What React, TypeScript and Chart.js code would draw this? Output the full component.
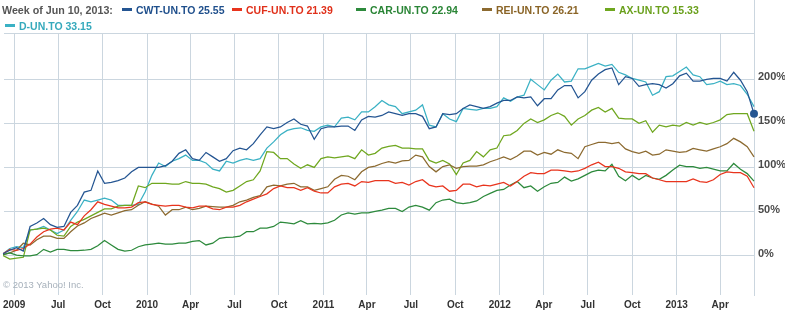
import React, { useEffect, useRef } from "react";
import { Chart, registerables } from "chart.js";

Chart.register(...registerables);

// ---------- data ----------
const HEADER_DATE = "Week of Jun 10, 2013:";
const SERIES_NAMES = ["CWT-UN.TO", "CUF-UN.TO", "CAR-UN.TO", "REI-UN.TO", "AX-UN.TO", "D-UN.TO"];
const LAST_PRICES = ["25.55", "21.39", "22.94", "26.21", "15.33", "33.15"];
const COPYRIGHT = "\u00a9 2013 Yahoo! Inc.";

// biweekly closes, % change since first week
const FIRST_WEEK = "2009-03-09";
const STEP_DAYS = 14;

const CWT = [
  2, 6, 9, 5, 33, 37, 42, 35, 32, 33, 49, 57, 72, 74, 96, 82, 83,
  85, 88, 95, 100, 100, 100, 100, 102, 107, 116, 120, 110, 108, 117, 112, 107,
  110, 119, 122, 120, 127, 137, 146, 144, 146, 151, 155, 149, 147, 132, 144, 146,
  146, 147, 147, 142, 154, 158, 157, 159, 163, 161, 159, 161, 161, 158, 144, 146, 161,
  160, 161, 167, 171, 169, 167, 169, 173, 176, 176, 180, 179, 180, 170, 178, 178,
  188, 193, 193, 179, 186, 199, 206, 211, 213, 194, 203, 201, 192, 194, 195, 194,
  190, 195, 204, 207, 198, 198, 200, 201, 201, 198, 208, 199, 186, 161,
];
const CUF = [
  2, 7, 6, 8, 13, 21, 27, 30, 31, 29, 38, 35, 45, 52, 61, 58, 56,
  54, 54, 55, 60, 61, 58, 57, 56, 57, 57, 55, 54, 56, 56, 53, 52,
  55, 55, 57, 61, 64, 67, 70, 76, 79, 77, 77, 74, 77, 73, 71, 71,
  78, 81, 82, 79, 84, 83, 85, 85, 85, 82, 83, 80, 84, 86, 80, 78, 79,
  73, 74, 81, 81, 78, 80, 79, 81, 83, 79, 84, 90, 94, 93, 93, 97,
  97, 96, 95, 96, 99, 103, 106, 101, 101, 99, 95, 94, 93, 93, 88, 86,
  84, 84, 84, 84, 87, 84, 83, 86, 92, 95, 94, 94, 90, 77,
];
const CAR = [
  1, 3, 0.5, -0.5, -0.5, 1, 7, 4, 7, 7, 5.5, 5.5, 6, 7, 11, 17, 12,
  7, 5, 6, 10, 12, 13, 14, 13, 13, 14, 14, 16, 17, 12, 14, 19.5,
  20.5, 21, 22, 27, 27, 31, 31, 33, 38, 37, 36, 39.5, 36, 36.5, 36, 37,
  40, 46, 48.5, 47, 48.5, 48.5, 50, 51.5, 53.5, 53.5, 50, 55, 57, 55, 51.5, 60, 63,
  64, 60, 59, 60, 62, 67, 70.5, 74, 75, 80, 84, 77, 79, 73, 78, 82,
  83, 89, 84.5, 87, 91, 95, 97, 96, 103.5, 90, 85, 91, 86, 91, 88, 86.5,
  91, 97, 102.5, 101, 101, 99, 100, 98, 96, 96, 104.5, 98, 93, 84.5,
];
const REI = [
  1, 3, 6, 14, 12, 18, 22, 22, 19.5, 19.5, 27, 33.5, 37, 42, 45, 48, 46,
  48.5, 51, 52, 57, 61, 58.5, 56, 46, 52, 52, 55, 52, 53.5, 56, 55.5, 55,
  55, 57, 61, 63, 66, 68, 78, 80, 79, 81, 82, 78, 78, 74, 76, 78,
  86.5, 91, 90, 86, 95, 100, 101.5, 104.5, 106.5, 105, 107.5, 108, 114, 112, 101, 95, 101,
  103, 99, 101, 101.5, 101.5, 103, 106.5, 109, 112, 109, 113, 118.5, 118.5, 114, 117, 115,
  120, 117, 116, 110, 123.5, 126, 128.5, 128.5, 127, 128.5, 121, 118, 116, 118.5, 114, 115,
  120, 118.5, 117, 118, 121.5, 120, 118.5, 121, 123.5, 127, 133, 129, 123.5, 112,
];
const AX = [
  0, -4, -3, -2, 29, 30, 31, 29, 23, 22, 33, 38, 41, 45, 49, 53, 53,
  56, 57, 57, 79, 77, 82, 82, 82, 81, 81, 84, 82, 82, 81, 78, 76,
  72, 74, 79, 84, 86, 96, 118, 117, 110, 110, 104, 99, 103, 100, 110, 112,
  111, 112, 113, 110, 120, 114, 116, 122, 124, 125, 122, 122, 121, 121, 108, 105, 108,
  104, 92, 105, 108, 118, 112, 120, 122, 136, 137, 142, 150, 155, 151, 154, 159,
  162, 158, 148, 155, 159, 165, 168, 163, 167, 156, 155, 155, 150, 153, 140, 148,
  146, 148, 147, 151, 148, 151, 149, 151, 154, 160, 161, 161, 161, 141,
];
const D = [
  2, 8, 10, 9, 29, 30, 33, 29, 25, 29, 40, 50, 63, 61, 63, 65, 63,
  57, 57, 57, 58, 72, 91, 105, 101, 107, 110, 114, 108, 108, 105, 98, 96,
  107, 105, 108, 110, 108, 110, 122, 129, 137, 142, 144, 145, 142, 141, 146, 148,
  146, 156, 157, 154, 163, 163, 169, 176, 171, 169, 161, 163, 165, 171, 148, 146, 161,
  155, 152, 167, 166, 165, 167, 167, 169, 179, 175, 180, 182, 200, 194, 188, 199,
  206, 197, 198, 212, 212, 215, 218, 215, 217, 208, 205, 201, 199, 197, 182, 186,
  203, 204, 209, 214, 205, 203, 194, 195, 198, 194, 195, 193, 183, 169,
];
const SERIES = [CWT, CUF, CAR, REI, AX, D];

const TICK_DATES = [
  "2009-04-01", "2009-07-01", "2009-10-01", "2010-01-01", "2010-04-01", "2010-07-01",
  "2010-10-01", "2011-01-01", "2011-04-01", "2011-07-01", "2011-10-01", "2012-01-01",
  "2012-04-01", "2012-07-01", "2012-10-01", "2013-01-01", "2013-04-01",
];
const TICK_LABELS = [
  "2009", "Jul", "Oct", "2010", "Apr", "Jul", "Oct", "2011", "Apr", "Jul", "Oct",
  "2012", "Apr", "Jul", "Oct", "2013", "Apr",
];
const Y_TICKS = [0, 50, 100, 150, 200];

// ---------- styles ----------
const LINE_COLORS = ["#245592", "#e8341d", "#2d8a3c", "#8c6a30", "#6fa71f", "#3ab1c4"];
const TEXT_COLORS = ["#1f4f8c", "#e0301a", "#2a8536", "#8a6426", "#6aa01c", "#35a9bc"];
const GRID = "#cbd6df";
const FONT = '"Liberation Sans", Arial, sans-serif';
const LEGEND_POS = [
  { x: 122, y: 4 },
  { x: 232, y: 4 },
  { x: 356, y: 4 },
  { x: 482, y: 4 },
  { x: 605, y: 4 },
  { x: 5, y: 20 },
];

const BASE = Date.UTC(2009, 3, 1);
const dayOf = (s: string) => (Date.parse(s + "T00:00:00Z") - BASE) / 86400000;

const X_MIN = -21;
const Y_MIN = -44.8;
const Y_MAX = 252.6;

// right frame line continues up through the header area
const frameTop = {
  id: "frameTop",
  beforeDatasetsDraw(chart: any) {
    const { ctx, chartArea } = chart;
    ctx.save();
    ctx.strokeStyle = GRID;
    ctx.lineWidth = 1;
    ctx.beginPath();
    const x = Math.round(chartArea.right) + 0.5;
    ctx.moveTo(x, 0);
    ctx.lineTo(x, chartArea.top);
    ctx.stroke();
    ctx.restore();
  },
};

export default function App() {
  const ref = useRef<HTMLCanvasElement | null>(null);

  useEffect(() => {
    if (!ref.current) return;
    const start = dayOf(FIRST_WEEK);
    const xMax = start + STEP_DAYS * (CWT.length - 1);
    const datasets = SERIES.map((vals, s) => ({
      label: SERIES_NAMES[s],
      data: vals.map((v, i) => ({ x: start + STEP_DAYS * i, y: v })),
      borderColor: LINE_COLORS[s],
      backgroundColor: LINE_COLORS[s],
      borderWidth: 1.25,
      pointRadius: vals.map((_, i) => (s === 0 && i === vals.length - 1 ? 4 : 0)),
      pointHoverRadius: 0,
      pointBorderWidth: 0,
      tension: 0,
      fill: false,
      clip: s === 0 ? 6 : 1,
    }));

    const chart = new Chart(ref.current, {
      type: "line",
      data: { datasets },
      plugins: [frameTop],
      options: {
        animation: false,
        responsive: false,
        maintainAspectRatio: false,
        events: [],
        layout: { padding: { top: 33, left: 0, right: 0, bottom: 0 } },
        plugins: { legend: { display: false }, tooltip: { enabled: false } },
        scales: {
          x: {
            type: "linear",
            min: X_MIN,
            max: xMax,
            afterBuildTicks: (scale: any) => {
              scale.ticks = TICK_DATES.map((d) => ({ value: dayOf(d) }));
            },
            afterFit: (scale: any) => {
              scale.height = 19;
              scale.paddingLeft = 0;
              scale.paddingRight = 0;
            },
            grid: { color: GRID, lineWidth: 1, drawTicks: false },
            border: { display: false },
            ticks: {
              autoSkip: false,
              maxRotation: 0,
              padding: 4,
              color: "#333333",
              font: { family: FONT, size: 10, weight: "bold" },
              callback: (_v: any, i: number) => TICK_LABELS[i],
            },
          },
          y: {
            type: "linear",
            position: "right",
            min: Y_MIN,
            max: Y_MAX,
            afterBuildTicks: (scale: any) => {
              scale.ticks = [...Y_TICKS, Y_MAX].map((v) => ({ value: v }));
            },
            afterFit: (scale: any) => {
              scale.width = 31;
              scale.paddingTop = 0;
              scale.paddingBottom = 0;
            },
            grid: { color: GRID, lineWidth: 1, drawTicks: false },
            border: { display: true, color: GRID, width: 1 },
            ticks: {
              padding: 4,
              crossAlign: "near",
              labelOffset: -2,
              color: "#4a4a4a",
              font: { family: FONT, size: 11, weight: "bold" },
              callback: (v: any) => (Y_TICKS.includes(v) ? v + "%" : ""),
            },
          },
        },
      } as any,
    });
    return () => chart.destroy();
  }, []);

  return (
    <div
      style={{
        position: "absolute",
        left: 0,
        top: 0,
        width: 785,
        height: 314,
        background: "#ffffff",
        fontFamily: FONT,
        overflow: "hidden",
      }}
    >
      <canvas
        ref={ref}
        width={785}
        height={314}
        style={{ position: "absolute", left: 0, top: 0, width: 785, height: 314 }}
      />
      <div
        style={{
          position: "absolute",
          left: 2,
          top: 4,
          fontSize: 10.7,
          lineHeight: "12px",
          fontWeight: "bold",
          color: "#555555",
          whiteSpace: "nowrap",
        }}
      >
        {HEADER_DATE}
      </div>
      {SERIES_NAMES.map((name, s) => (
        <React.Fragment key={name}>
          <div
            style={{
              position: "absolute",
              left: LEGEND_POS[s].x,
              top: LEGEND_POS[s].y + 4,
              width: 10,
              height: 3,
              background: LINE_COLORS[s],
            }}
          />
          <div
            style={{
              position: "absolute",
              left: LEGEND_POS[s].x + 14,
              top: LEGEND_POS[s].y,
              fontSize: 10.5,
              lineHeight: "12px",
              fontWeight: "bold",
              color: TEXT_COLORS[s],
              whiteSpace: "nowrap",
            }}
          >
            {name} {LAST_PRICES[s]}
          </div>
        </React.Fragment>
      ))}
      <div
        style={{
          position: "absolute",
          left: 3,
          top: 279,
          fontSize: 9.5,
          lineHeight: "11px",
          color: "#a7b1bb",
          whiteSpace: "nowrap",
        }}
      >
        {COPYRIGHT}
      </div>
    </div>
  );
}
